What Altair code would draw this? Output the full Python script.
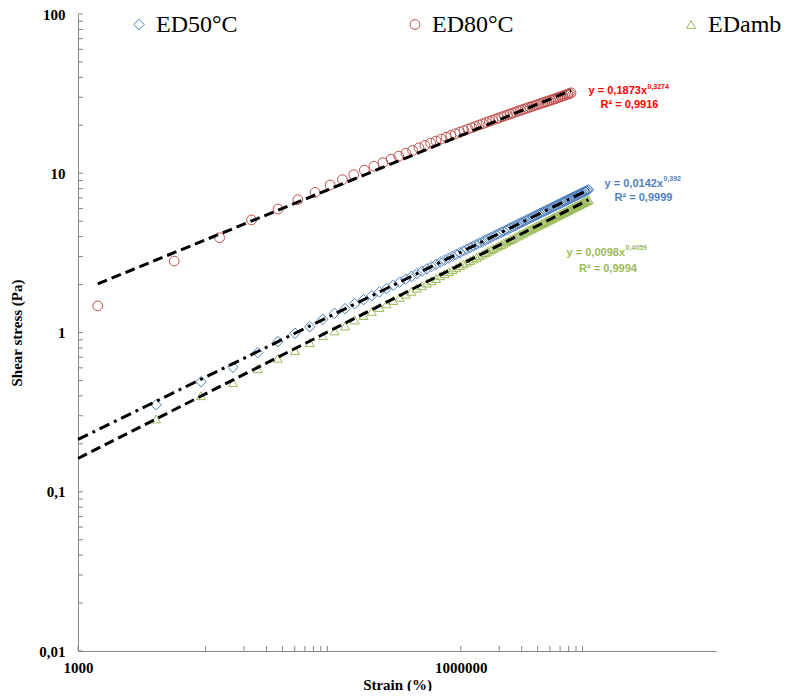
import altair as alt
import pandas as pd

# ---------------- data ----------------
series_names = ["ED50°C", "ED80°C", "EDamb"]
series_colors = ["#4F81BD", "#C0504D", "#9BBB59"]
series_shapes = ["diamond", "circle", "triangle-up"]
series_sizes = [110, 81, 105]

strain_80 = [1427, 5675, 12870, 22900, 37000, 52800, 72100, 94600, 118000, 145000,
             175450, 208800, 245050, 284200, 326250, 371200, 419050, 469800, 523450, 580000,
             639450, 701800, 767050, 835200, 906250, 980200, 1057050, 1136800, 1219450, 1305000,
             1393450, 1484800, 1579050, 1676200, 1776250, 1879200, 1985050, 2093800, 2205450, 2320000,
             2437450, 2557800, 2681050, 2807200, 2936250, 3068200, 3203050, 3340800, 3481450, 3625000,
             3771450, 3920800, 4073050, 4228200, 4386250, 4547200, 4711050, 4877800, 5047450, 5220000,
             5395450, 5573800, 5755050, 5939200, 6126250, 6316200, 6509050, 6704800, 6903450, 7105000,
             7309450]
stress_80 = [1.47, 2.81, 3.94, 5.09, 5.96, 6.82, 7.59, 8.44, 9.11, 9.79,
             10.46, 11.07, 11.66, 12.25, 12.81, 13.36, 13.91, 14.44, 14.96, 15.47,
             15.93, 16.39, 16.83, 17.27, 17.70, 18.11, 18.52, 18.93, 19.32, 19.71,
             20.09, 20.47, 20.84, 21.20, 21.55, 21.91, 22.25, 22.59, 22.93, 23.26,
             23.58, 23.90, 24.21, 24.53, 24.83, 25.14, 25.43, 25.73, 26.02, 26.30,
             26.58, 26.86, 27.14, 27.41, 27.68, 27.94, 28.20, 28.46, 28.71, 28.96,
             29.25, 29.52, 29.80, 30.08, 30.35, 30.62, 30.88, 31.15, 31.41, 31.67,
             31.97]

strain_50 = [4096, 9216, 16384, 25600, 36864, 50176, 65536, 82944, 102400, 123904, 147456,
             173056, 200704, 230400, 262144, 295936, 331776, 369664, 409600,
             451584, 495616, 541696, 589824, 640000, 692224, 746496, 802816, 861184, 921600,
             984064, 1048576, 1115136, 1183744, 1254400, 1327104, 1401856, 1478656, 1557504, 1638400,
             1721344, 1806336, 1893376, 1982464, 2073600, 2166784, 2262016, 2359296, 2458624, 2560000,
             2663424, 2768896, 2876416, 2985984, 3097600, 3211264, 3326976, 3444736, 3564544, 3686400,
             3810304, 3936256, 4064256, 4194304, 4326400, 4460544, 4596736, 4734976, 4875264, 5017600,
             5161984, 5308416, 5456896, 5607424, 5760000, 5914624, 6071296, 6230016, 6390784, 6553600,
             6718464, 6885376, 7054336, 7225344, 7398400, 7573504, 7750656, 7929856, 8111104, 8294400,
             8479744, 8667136, 8856576, 9048064, 9241600, 9437184, 9634816, 9834496, 10036224]
stress_50 = [0.352, 0.491, 0.605, 0.747, 0.876, 0.989, 1.087, 1.210, 1.320, 1.411, 1.517,
             1.606, 1.702, 1.797, 1.890, 1.982, 2.073, 2.162, 2.251,
             2.339, 2.426, 2.512, 2.597, 2.682, 2.766, 2.849, 2.931, 3.013, 3.094,
             3.175, 3.254, 3.334, 3.413, 3.491, 3.569, 3.647, 3.724, 3.801, 3.877,
             3.953, 4.028, 4.103, 4.178, 4.252, 4.326, 4.399, 4.472, 4.546, 4.618,
             4.690, 4.762, 4.834, 4.905, 4.976, 5.047, 5.118, 5.188, 5.258, 5.327,
             5.397, 5.466, 5.535, 5.604, 5.673, 5.741, 5.809, 5.877, 5.944, 6.012,
             6.080, 6.146, 6.214, 6.280, 6.346, 6.412, 6.478, 6.545, 6.610, 6.676,
             6.741, 6.806, 6.871, 6.935, 7.001, 7.065, 7.130, 7.193, 7.258, 7.321,
             7.385, 7.449, 7.512, 7.575, 7.639, 7.701, 7.764, 7.827, 7.890]
strain_amb = strain_50
stress_amb = [0.286, 0.401, 0.484, 0.592, 0.689, 0.769, 0.863, 0.955, 1.022, 1.098, 1.198,
              1.277, 1.356, 1.435, 1.512, 1.588, 1.663, 1.738, 1.813,
              1.895, 1.968, 2.040, 2.112, 2.183, 2.270, 2.340, 2.410, 2.480, 2.549,
              2.626, 2.695, 2.763, 2.830, 2.898, 2.965, 3.031, 3.099, 3.174, 3.240,
              3.306, 3.371, 3.436, 3.500, 3.565, 3.640, 3.704, 3.768, 3.832, 3.895,
              3.966, 4.029, 4.092, 4.155, 4.217, 4.288, 4.350, 4.412, 4.473, 4.535,
              4.596, 4.657, 4.718, 4.779, 4.839, 4.900, 4.960, 5.020, 5.079, 5.139,
              5.198, 5.258, 5.317, 5.376, 5.435, 5.494, 5.553, 5.611, 5.669, 5.727,
              5.786, 5.844, 5.901, 5.959, 6.017, 6.074, 6.131, 6.189, 6.245, 6.302,
              6.359, 6.415, 6.473, 6.529, 6.585, 6.641, 6.697, 6.754, 6.809]

# power-law trendlines shown on the chart (y = a x^b)
fit_a = [0.0142, 0.1873, 0.0098]
fit_b = [0.392, 0.3274, 0.4059]
fit_r2 = ["0,9999", "0,9916", "0,9994"]
fit_x_start = [1000, strain_80[0], 1000]
fit_x_end = [strain_50[-1], strain_80[-1], strain_amb[-1]]
fit_colors = ["#4F81BD", "#FF0000", "#9BBB59"]

x_label_values = [1000, 1000000]
y_label_values = [0.01, 0.1, 1, 10, 100]
x_tick_values = [1000, 10000, 20000, 30000, 40000, 50000, 60000, 70000, 80000, 90000,
                 1000000, 2000000, 3000000, 4000000, 5000000, 6000000, 7000000, 8000000, 9000000]
y_tick_values = [m * 10.0 ** e for e in range(-2, 2) for m in range(1, 10)] + [100]

# ---------------- frames ----------------
pts = pd.concat([
    pd.DataFrame({"strain": strain_50, "stress": stress_50, "series": series_names[0]}),
    pd.DataFrame({"strain": strain_80, "stress": stress_80, "series": series_names[1]}),
    pd.DataFrame({"strain": strain_amb, "stress": stress_amb, "series": series_names[2]}),
], ignore_index=True)

fits = []
for i, name in enumerate(series_names):
    for xv in (fit_x_start[i], fit_x_end[i]):
        fits.append({"strain": xv, "stress": fit_a[i] * xv ** fit_b[i], "series": name})
fits = pd.DataFrame(fits)

xscale = alt.Scale(type="log", domain=[1000, 1e8], nice=False)
yscale = alt.Scale(type="log", domain=[0.01, 100], nice=False)

W, H = 638, 637

base_x = alt.X("strain:Q", scale=xscale,
               axis=alt.Axis(values=x_label_values, labelExpr="format(datum.value, 'd')",
                             title="Strain (%)", labelPadding=9, titlePadding=2,
                             labelFlush=False))
base_y = alt.Y("stress:Q", scale=yscale,
               axis=alt.Axis(values=y_label_values,
                             labelExpr="replace(toString(datum.value), '.', ',')",
                             title="Shear stress (Pa)", labelPadding=13, titlePadding=14,
                             labelFlush=False))

legend = alt.Legend(orient="none", legendX=49, legendY=-1.5, direction="horizontal",
                    title=None, gridAlign="all", columnPadding=165,
                    labelFont="Liberation Serif", labelFontSize=24,
                    labelColor="black", labelOffset=5, symbolSize=75,
                    symbolStrokeWidth=1, padding=0)

points = alt.Chart(pts).mark_point(filled=False, strokeWidth=1, opacity=1).encode(
    x=base_x, y=base_y,
    color=alt.Color("series:N", scale=alt.Scale(domain=series_names, range=series_colors),
                    legend=legend),
    shape=alt.Shape("series:N", scale=alt.Scale(domain=series_names, range=series_shapes),
                    legend=legend),
    size=alt.Size("series:N", scale=alt.Scale(domain=series_names, range=series_sizes), legend=None),
)

dash_styles = [[11, 5, 3, 5], [10, 5], [10, 5]]
fit_layers = []
for i, name in enumerate(series_names):
    fit_layers.append(
        alt.Chart(fits[fits.series == name]).mark_line(
            color="black", strokeWidth=3, strokeDash=dash_styles[i], strokeCap="butt"
        ).encode(x=alt.X("strain:Q", scale=xscale), y=alt.Y("stress:Q", scale=yscale))
    )

# inward axis ticks
yt = pd.DataFrame({"stress": y_tick_values})
y_ticks = alt.Chart(yt).mark_rule(color="#868686", strokeWidth=1).encode(
    y=alt.Y("stress:Q", scale=yscale), x=alt.value(0), x2=alt.value(5))
xt = pd.DataFrame({"strain": x_tick_values})
x_ticks = alt.Chart(xt).mark_rule(color="#868686", strokeWidth=1).encode(
    x=alt.X("strain:Q", scale=xscale), y=alt.value(H), y2=alt.value(H - 5))

# trendline equations
def fmt(v):
    return str(v).replace(".", ",")

eq_main = pd.DataFrame({
    "px": [585, 569, 547], "py": [169.5, 77, 238.5],
    "text": ["y = " + fmt(a) + "x" for a in fit_a], "col": fit_colors})
eq_sup = pd.DataFrame({
    "px": [585.5, 569.5, 547.5], "py": [165, 72.5, 234],
    "text": [fmt(b) for b in fit_b], "col": fit_colors})
eq_r2 = pd.DataFrame({
    "px": [565.5, 551.5, 530], "py": [183.5, 90.5, 254.5],
    "text": ["R² = " + r for r in fit_r2], "col": fit_colors})

def txt(df, size, align):
    return alt.Chart(df).mark_text(font="Liberation Sans", fontWeight="bold", fontSize=size,
                                   align=align, baseline="middle").encode(
        x=alt.X("px:Q", scale=None), y=alt.Y("py:Q", scale=None),
        text="text:N", color=alt.Color("col:N", scale=None, legend=None))

chart = alt.layer(
    points, *fit_layers, y_ticks, x_ticks,
    txt(eq_main, 11, "right"), txt(eq_sup, 7, "left"), txt(eq_r2, 11, "center"),
).properties(
    width=W, height=H,
    padding={"left": 70, "top": 6, "right": 68, "bottom": 40},
    autosize=alt.AutoSizeParams(type="none"),
    background="white",
).configure_view(stroke=None).configure_axis(
    domainColor="#868686", domainWidth=1, ticks=False, grid=False,
    labelFont="Liberation Serif", labelFontWeight="bold", labelFontSize=15, labelColor="black",
    titleFont="Liberation Serif", titleFontWeight="bold", titleFontSize=15, titleColor="black",
)

chart.save("out.html", embed_options={"renderer": "svg", "actions": False})
